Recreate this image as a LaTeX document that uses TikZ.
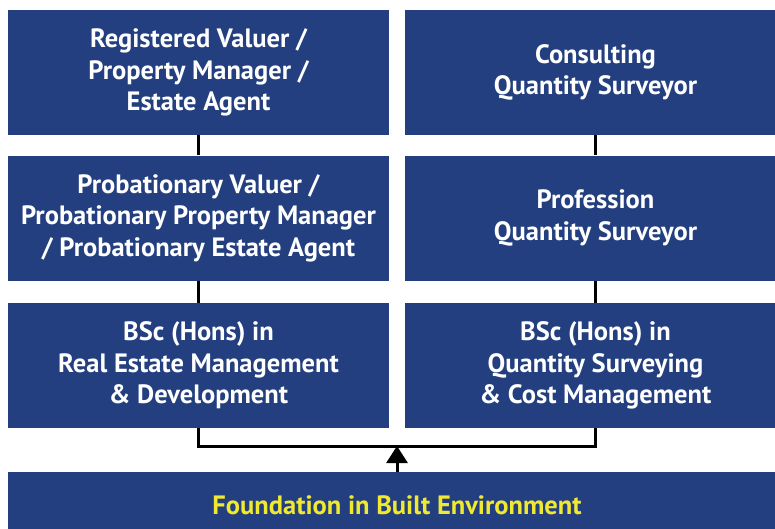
\documentclass[tikz,border=0pt]{standalone}
\usepackage{fontspec}
\setmainfont{PT Sans}
\usetikzlibrary{arrows.meta}
\definecolor{boxblue}{HTML}{233F7F}
\definecolor{textyellow}{HTML}{F0E930}

\begin{document}
\begin{tikzpicture}[x=1pt,y=-1pt,font=\fontsize{26.5}{31.5}\selectfont\bfseries,
        stage/.style={rectangle,fill=boxblue,text=white,align=center,minimum width=381pt,minimum height=125pt,inner sep=0pt},
        link/.style={line width=3pt}]
        \clip (0,0) rectangle (775,528);
        \node[stage] (lt) at (198.5,72.5) {Registered Valuer /\\Property Manager /\\Estate Agent};
        \node[stage] (lm) at (198.5,218) {Probationary Valuer /\\Probationary Property Manager\\/ Probationary Estate Agent};
        \node[stage] (lb) at (198.5,365.5) {BSc (Hons) in\\Real Estate Management\\\& Development};
        \node[stage] (rt) at (595.5,72.5) {Consulting\\Quantity Surveyor};
        \node[stage] (rm) at (595.5,218) {Profession\\Quantity Surveyor};
        \node[stage] (rb) at (595.5,365.5) {BSc (Hons) in\\Quantity Surveying\\\& Cost Management};
        \node[stage,minimum width=778pt,minimum height=66pt,text=textyellow] (fd) at (397,505) {Foundation in Built Environment};
        \draw[link] (lt) -- (lm) -- (lb);
        \draw[link] (rt) -- (rm) -- (rb);
        \coordinate (jn) at (397,446);
        \draw[link] (lb.south) |- (jn) -| (rb.south);
        \draw[link,-{Triangle[width=21pt,length=17pt]}] (fd.north) -- (jn);
    \end{tikzpicture}
\end{document}
